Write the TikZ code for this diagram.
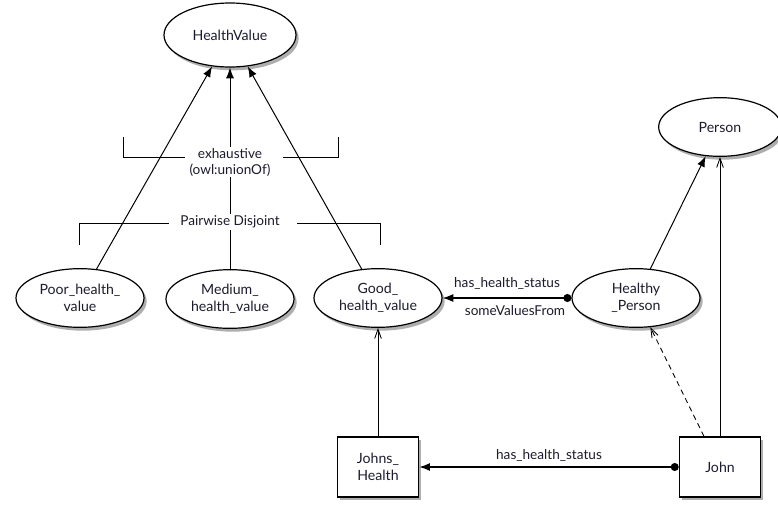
\documentclass[tikz,border=0pt]{standalone}
\usepackage{fontspec}
\setmainfont{Lato}
\usetikzlibrary{arrows.meta,shapes.geometric,shadows}
\definecolor{Ink}{HTML}{1C1C2E}
\tikzset{
  softshadow/.style={drop shadow={shadow xshift=2pt,shadow yshift=-2.5pt,fill=black!45,opacity=0.7}},
  classnode/.style={ellipse,draw,line width=0.9pt,fill=white,text=Ink,align=center,
    minimum width=96pt,minimum height=44pt,inner sep=0pt,font=\fontsize{10.6}{12.4}\selectfont,softshadow},
  indivnode/.style={rectangle,draw,line width=0.9pt,fill=white,text=Ink,align=center,
    minimum width=61pt,minimum height=45pt,inner sep=0pt,font=\fontsize{10.6}{12.4}\selectfont,softshadow},
  subclass/.style={-{Latex[length=8pt,width=6pt]},line width=0.75pt},
  instof/.style={-{Straight Barb[length=7pt,width=5pt]},line width=0.65pt},
  propline/.style={{Circle[length=6pt]}-{Latex[length=8pt,width=6pt]},line width=1pt},
  lbl/.style={fill=white,text=Ink,inner sep=1pt,font=\fontsize{10.2}{12}\selectfont},
  bracketline/.style={line width=0.75pt},
}
\begin{document}
\begin{tikzpicture}[x=0.75pt,y=-0.75pt]
  \useasboundingbox (0,0) rectangle (778,504);
  % classes
  \node[classnode,minimum width=99pt,minimum height=48pt] (healthvalue) at (230,35) {HealthValue};
  \node[classnode] (poor) at (80,298) {Poor\_health\_\\value};
  \node[classnode] (medium) at (230,299) {Medium\_\\health\_value};
  \node[classnode] (good) at (378,298) {Good\_\\health\_value};
  \node[classnode] (healthy) at (636,298) {Healthy\\\_Person};
  \node[classnode,minimum width=92pt] (person) at (720,127) {Person};
  % individuals
  \node[indivnode] (johnshealth) at (378,467) {Johns\_\\Health};
  \node[indivnode] (john) at (720,467) {John};

  \draw[subclass] (poor) -- (healthvalue);
  \draw[subclass] (medium) -- (healthvalue);
  \draw[subclass] (good) -- (healthvalue);
  \draw[subclass] (healthy) -- (person);
  \draw[instof] (john) -- (person);
  \draw[instof] (johnshealth) -- (good);
  \draw[instof,dash pattern=on 4pt off 3pt] ([xshift=-12pt]john.north) -- (healthy);
  \draw[propline] (healthy) -- node[lbl,above=5pt] {has\_health\_status}
    node[lbl,below=4pt,xshift=6pt] {someValuesFrom} (good);
  \draw[propline] (john) -- node[lbl,above=3pt] {has\_health\_status} (johnshealth);

  % brackets
  \node[lbl,align=center] (exhaustive) at (230,162) {exhaustive\\(owl:unionOf)};
  \node[lbl] (disjoint) at (230,222) {Pairwise Disjoint};
  \draw[bracketline] (123,137) -- (123,157) -- (185,157);
  \draw[bracketline] (283,157) -- (338,157) -- (338,137);
  \draw[bracketline] (79,245) -- (79,223) -- (169,223);
  \draw[bracketline] (297,223) -- (380,223) -- (380,245);
\end{tikzpicture}
\end{document}
